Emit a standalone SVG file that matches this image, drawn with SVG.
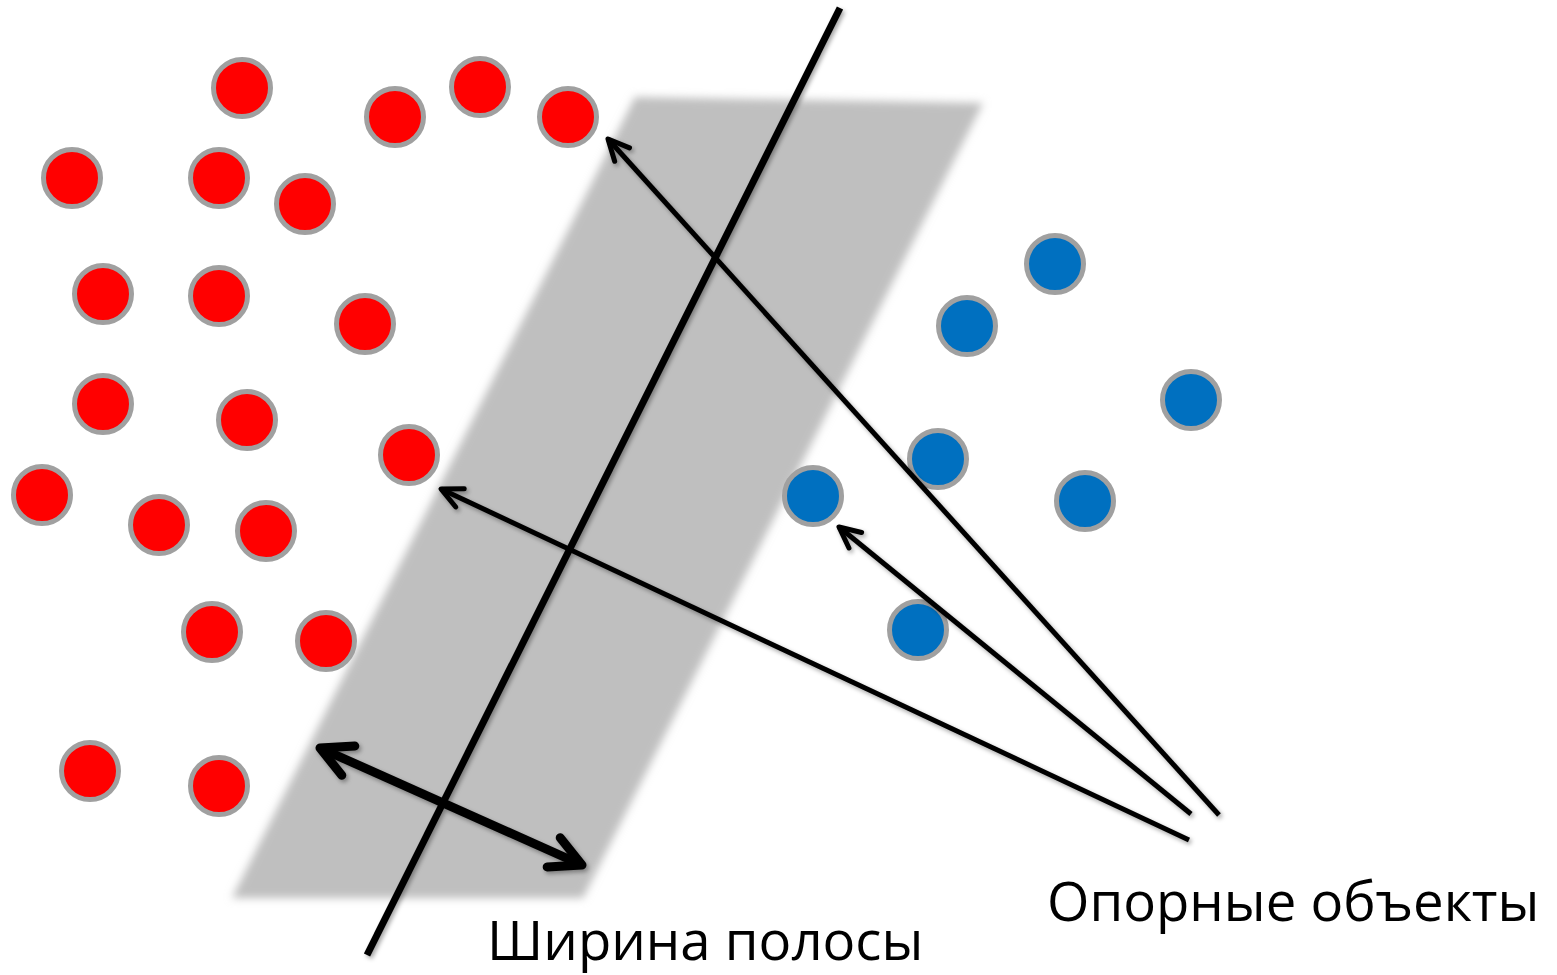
<svg xmlns="http://www.w3.org/2000/svg" width="1557" height="975" viewBox="0 0 1557 975">
<style>
.red{fill:#FF0000;stroke:#A0A0A0;stroke-width:5}
.blue{fill:#0070C0;stroke:#A0A0A0;stroke-width:5}
.thin{stroke:#000;stroke-width:5;fill:none;marker-end:url(#openArrow)}
.label{font-family:"Open Sans","Noto Sans","Liberation Sans",sans-serif;font-size:54.5px;fill:#000}
</style>
<defs>
<filter id="blur" x="-10%" y="-10%" width="120%" height="120%"><feGaussianBlur stdDeviation="4"/></filter>
<filter id="shadow" x="-10%" y="-10%" width="120%" height="120%"><feDropShadow dx="2" dy="2.5" stdDeviation="2" flood-color="#000" flood-opacity="0.35"/></filter>
<marker id="openArrow" markerUnits="userSpaceOnUse" orient="auto" markerWidth="40" markerHeight="40" refX="0" refY="0" viewBox="-30 -20 40 40" overflow="visible">
<path d="M-21,-10 L0,0 L-21,10" fill="none" stroke="#000" stroke-width="5" stroke-linecap="round" stroke-linejoin="round"/>
</marker>
<marker id="thickArrow" markerUnits="userSpaceOnUse" orient="auto-start-reverse" markerWidth="60" markerHeight="60" refX="0" refY="0" viewBox="-45 -30 60 60" overflow="visible">
<path d="M-31,-16 L0,0 L-31,16" fill="none" stroke="#000" stroke-width="9" stroke-linecap="round" stroke-linejoin="round"/>
</marker>
</defs>
<rect width="1557" height="975" fill="#FFFFFF"/>
<g id="band">
<polygon points="635,97 983,103 583,898 232,898" fill="#BFBFBF" filter="url(#blur)"/>
</g>
<g id="red-points">
<circle id="r1" class="red" cx="242" cy="88" r="28.5"/>
<circle id="r2" class="red" cx="395" cy="117" r="28.5"/>
<circle id="r3" class="red" cx="480" cy="87" r="28.5"/>
<circle id="r4" class="red" cx="568" cy="117" r="28.5"/>
<circle id="r5" class="red" cx="72" cy="178" r="28.5"/>
<circle id="r6" class="red" cx="219" cy="178" r="28.5"/>
<circle id="r7" class="red" cx="305" cy="204" r="28.5"/>
<circle id="r8" class="red" cx="103" cy="294" r="28.5"/>
<circle id="r9" class="red" cx="219" cy="296" r="28.5"/>
<circle id="r10" class="red" cx="365" cy="324" r="28.5"/>
<circle id="r11" class="red" cx="103" cy="404" r="28.5"/>
<circle id="r12" class="red" cx="247" cy="420" r="28.5"/>
<circle id="r13" class="red" cx="409" cy="455" r="28.5"/>
<circle id="r14" class="red" cx="42" cy="495" r="28.5"/>
<circle id="r15" class="red" cx="159" cy="525" r="28.5"/>
<circle id="r16" class="red" cx="266" cy="531" r="28.5"/>
<circle id="r17" class="red" cx="212" cy="632" r="28.5"/>
<circle id="r18" class="red" cx="326" cy="641" r="28.5"/>
<circle id="r19" class="red" cx="90" cy="771" r="28.5"/>
<circle id="r20" class="red" cx="219" cy="786" r="28.5"/>
</g>
<g id="blue-points">
<circle id="b1" class="blue" cx="1055" cy="264" r="28.5"/>
<circle id="b2" class="blue" cx="967" cy="326" r="28.5"/>
<circle id="b3" class="blue" cx="1191" cy="400" r="28.5"/>
<circle id="b4" class="blue" cx="938" cy="459" r="28.5"/>
<circle id="b5" class="blue" cx="813" cy="496" r="28.5"/>
<circle id="b6" class="blue" cx="1085" cy="501" r="28.5"/>
<circle id="b7" class="blue" cx="918" cy="630" r="28.5"/>
</g>
<g id="connectors" filter="url(#shadow)">
<line id="separator" x1="840" y1="8" x2="367" y2="955" stroke="#000" stroke-width="7"/>
<line id="width-arrow" x1="320" y1="748" x2="582" y2="865" stroke="#000" stroke-width="9" marker-start="url(#thickArrow)" marker-end="url(#thickArrow)"/>
<line id="sv1" class="thin" x1="1219" y1="815" x2="608" y2="139"/>
<line id="sv2" class="thin" x1="1189" y1="840" x2="441" y2="489"/>
<line id="sv3" class="thin" x1="1191" y1="814" x2="839" y2="527"/>
</g>
<g id="labels">
<text class="label" x="487" y="960">Ширина полосы</text>
<text class="label" x="1047" y="921">Опорные объекты</text>
</g>
</svg>
